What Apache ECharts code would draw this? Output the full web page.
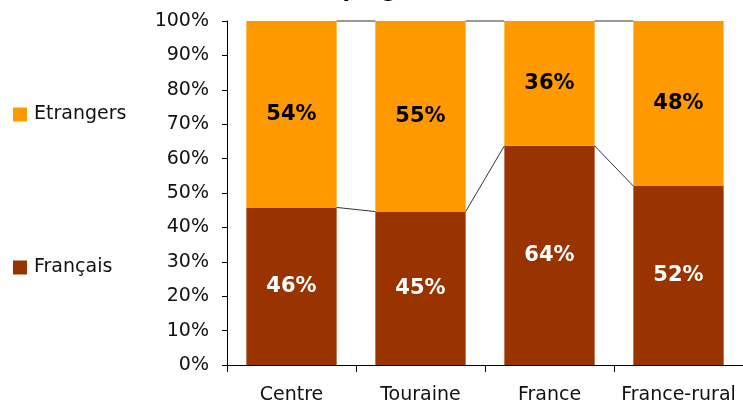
<!DOCTYPE html>
<html>
<head>
<meta charset="utf-8">
<script src="https://cdn.jsdelivr.net/npm/echarts@6/dist/echarts.min.js"></script>
<style>
    html, body { margin: 0; padding: 0; background: #fff; }
    #chart { width: 743px; height: 406px; }
</style>
</head>
<body>
<div id="chart"></div>
<script>
var categories = ["Centre", "Touraine", "France", "France-rural"];
var francais = [45.8, 44.6, 63.7, 52.0];
var etrangers = [54.2, 55.4, 36.3, 48.0];
var yTicks = [0, 10, 20, 30, 40, 50, 60, 70, 80, 90, 100];

(function() {
    let myChart = echarts.init(document.getElementById("chart"));
    var barPct = 0.7;

    // series lines (Excel style): join the tops of each segment between bars
    var lineData = [];
    for (var i = 0; i < categories.length - 1; i++) {
        lineData.push([i, francais[i], francais[i + 1]]);
        lineData.push([i, francais[i] + etrangers[i], francais[i + 1] + etrangers[i + 1]]);
    }

    function renderSeriesLine(params, api) {
        var i = api.value(0);
        var p1 = api.coord([i, api.value(1)]);
        var p2 = api.coord([i + 1, api.value(2)]);
        var half = api.size([1, 0])[0] * barPct / 2;
        return {
            type: "line",
            shape: { x1: p1[0] + half, y1: p1[1], x2: p2[0] - half, y2: p2[1] },
            style: { stroke: "#333", lineWidth: 1 }
        };
    }

    var labelFont = "DejaVu Sans";

    let option = {
        animation: false,
        color: ["#993300", "#FF9900"],
        graphic: [{
            type: "text",
            left: 123,
            top: -20,
            style: {
                text: "Clientèle des campings",
                font: "bold 22px 'DejaVu Sans'",
                fill: "#000"
            }
        }],
        legend: {
            orient: "vertical",
            left: 8,
            top: 100,
            itemWidth: 14,
            itemHeight: 14,
            itemGap: 134,
            icon: "rect",
            data: ["Etrangers", "Français"],
            textStyle: {
                color: "#111",
                fontSize: 19,
                fontFamily: labelFont,
                padding: [0, 0, 0, 2]
            }
        },
        grid: {
            left: 227,
            width: 523,
            top: 21,
            bottom: 41
        },
        xAxis: {
            type: "category",
            data: categories,
            axisLine: { lineStyle: { color: "#000", width: 1 } },
            axisTick: { show: true, length: 7, lineStyle: { color: "#000" } },
            axisLabel: {
                interval: 0,
                color: "#111",
                fontSize: 19,
                fontFamily: labelFont,
                margin: 21
            }
        },
        yAxis: {
            type: "value",
            min: yTicks[0],
            max: yTicks[yTicks.length - 1],
            interval: 10,
            axisLine: { show: true, lineStyle: { color: "#000", width: 1 } },
            axisTick: { show: true, length: 5, lineStyle: { color: "#000" } },
            splitLine: { show: false },
            axisLabel: {
                color: "#111",
                fontSize: 19,
                fontFamily: labelFont,
                margin: 18,
                formatter: "{value}%"
            }
        },
        series: [{
            name: "Français",
            type: "bar",
            stack: "total",
            barWidth: "70%",
            data: francais,
            itemStyle: { color: "#993300" },
            label: {
                show: true,
                position: "inside",
                color: "#fff",
                fontSize: 21,
                fontWeight: "bold",
                fontFamily: labelFont,
                formatter: function(p) { return Math.round(p.value) + "%"; }
            }
        }, {
            name: "Etrangers",
            type: "bar",
            stack: "total",
            barWidth: "70%",
            data: etrangers,
            itemStyle: { color: "#FF9900" },
            label: {
                show: true,
                position: "inside",
                color: "#000",
                fontSize: 21,
                fontWeight: "bold",
                fontFamily: labelFont,
                formatter: function(p) { return Math.round(p.value) + "%"; }
            }
        }, {
            name: "lines",
            type: "custom",
            renderItem: renderSeriesLine,
            data: lineData,
            encode: { x: 0, y: 1 },
            silent: true,
            z: 5
        }]
    };
    myChart.setOption(option);
    window.addEventListener("resize", function() {
        myChart.resize();
    });
})();
</script>
</body>
</html>
